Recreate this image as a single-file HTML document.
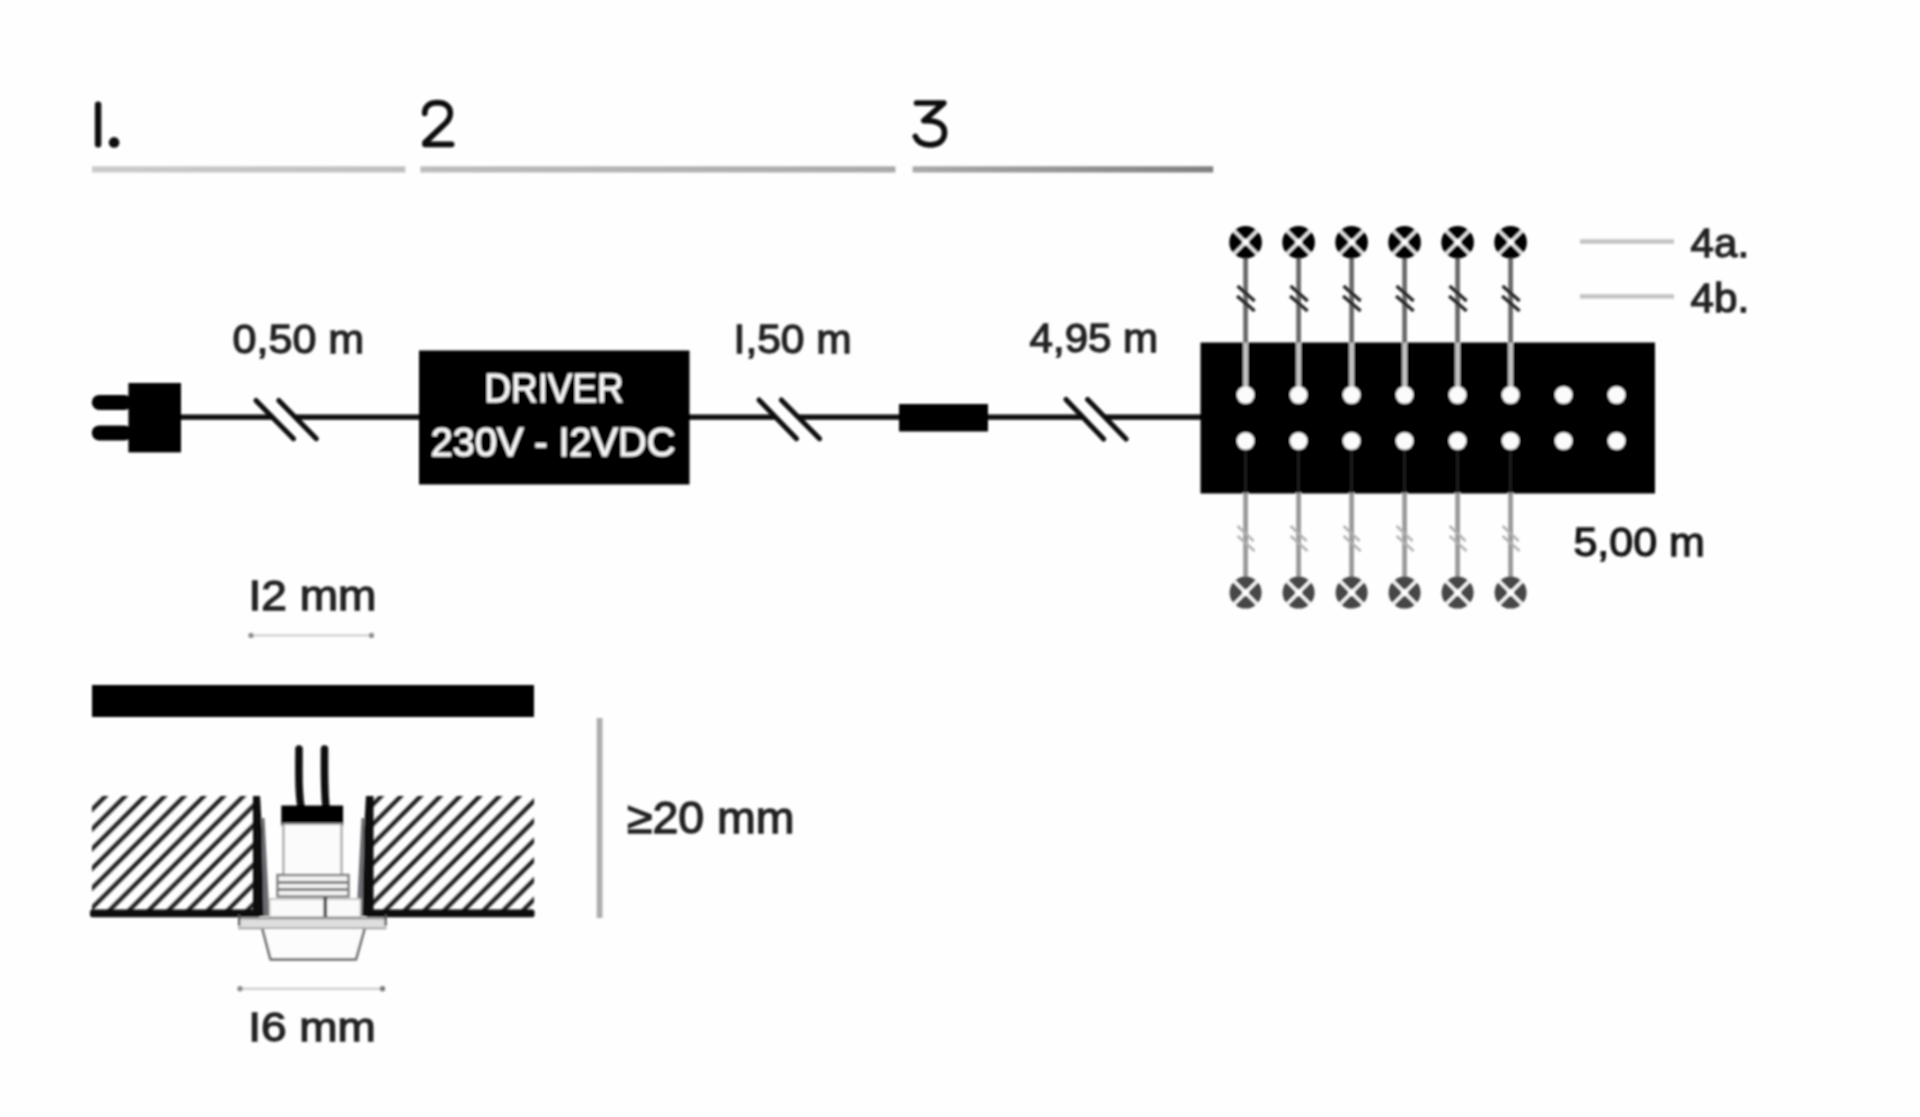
<!DOCTYPE html>
<html><head><meta charset="utf-8"><title>Wiring diagram</title>
<style>
html,body{margin:0;padding:0;background:#fefefe;}
body{width:1920px;height:1117px;overflow:hidden;font-family:"Liberation Sans",sans-serif;}
svg{display:block;position:absolute;left:0;top:0;}
text{font-family:"Liberation Sans",sans-serif;}
.lb{font-size:41px;fill:#222;stroke:#222;stroke-width:1.3px;}
.hd{font-size:60px;fill:#161616;stroke:#161616;stroke-width:.9px;}
.wt{font-size:40.5px;fill:#f6f6f6;stroke:#f6f6f6;stroke-width:1px;}
</style></head><body>
<svg width="1920" height="1117" viewBox="0 0 1920 1117">
<defs>
<filter id="bl" x="-2%" y="-2%" width="104%" height="104%"><feGaussianBlur stdDeviation="1.3"/></filter>
<pattern id="hatch" patternUnits="userSpaceOnUse" width="19.7" height="19.7" x="85.9" y="796">
<path d="M-5,24.7 L24.7,-5 M-5,5 L5,-5 M14.7,24.7 L24.7,14.7" stroke="#1e1e1e" stroke-width="4.2" fill="none"/>
</pattern>
<g id="lampT"><circle r="16.3" fill="#060606"/><path d="M-12,-12L12,12M12,-12L-12,12" stroke="#f2f2f2" stroke-width="2.7"/><circle r="3.3" fill="#fff"/></g>
<g id="lampB"><circle r="16" fill="#474747"/><path d="M-12,-12L12,12M12,-12L-12,12" stroke="#fbfbfb" stroke-width="3"/><circle r="3.4" fill="#fff"/></g>
<linearGradient id="u1" x1="0" x2="1" y1="0" y2="0"><stop offset="0" stop-color="#cbcbcb"/><stop offset="1" stop-color="#c0c0c0"/></linearGradient>
<linearGradient id="u2" x1="0" x2="1" y1="0" y2="0"><stop offset="0" stop-color="#bdbdbd"/><stop offset="1" stop-color="#a9a9a9"/></linearGradient>
<linearGradient id="u3" x1="0" x2="1" y1="0" y2="0"><stop offset="0" stop-color="#a9a9a9"/><stop offset="1" stop-color="#808080"/></linearGradient>
</defs>
<rect width="1920" height="1117" fill="#fefefe"/>
<g filter="url(#bl)">
<!-- headers -->
<g fill="none" stroke="#0b0b0b" stroke-width="5.7" stroke-linecap="round" stroke-linejoin="round">
<path d="M98.1,104.6V144.2" stroke-width="6.4"/>
<path d="M424.7,113.3C424.7,106.3 429.6,102.7 437.4,102.7C445.5,102.7 450.3,106.7 450.3,113.4C450.3,118.6 447.4,121.9 443,125.7L425,142.6V144.3H451.6"/>
<path d="M916.6,103H943.8L923.9,120.7C936,119.6 944.5,124.2 944.5,132.6C944.5,140.5 938.4,144.8 930,144.8C922,144.8 917.4,141.5 915.4,136.5"/>
</g>
<circle cx="114.1" cy="142.4" r="5.3" fill="#0b0b0b"/>
<rect x="92" y="166.3" width="313.3" height="6.2" fill="url(#u1)"/>
<rect x="420.4" y="166.3" width="475" height="6.2" fill="url(#u2)"/>
<rect x="912.6" y="166.3" width="300.6" height="6.2" fill="url(#u3)"/>
<!-- wire -->
<path d="M178,417.1H273.5M295.5,417.1H422M688,417.1H776M798,417.1H900M986,417.1H1083.5M1105.5,417.1H1204" stroke="#080808" stroke-width="5.3" fill="none"/>
<!-- plug -->
<rect x="128.4" y="383" width="52.6" height="69.4" fill="#030303"/>
<rect x="91.8" y="394.9" width="40" height="15" rx="7.5" fill="#030303"/>
<rect x="91.8" y="425.4" width="40" height="15" rx="7.5" fill="#030303"/>
<!-- break marks -->
<path d="M256,400.5L293.5,438.7M278.8,400.5L316.3,438.7" stroke="#080808" stroke-width="5" stroke-linecap="round" fill="none"/>
<path d="M759,400L796.5,438.7M781.3,400L819.6,438.7" stroke="#080808" stroke-width="5" stroke-linecap="round" fill="none"/>
<path d="M1066,399.5L1103.6,439M1087.6,399.5L1126,439" stroke="#080808" stroke-width="5" stroke-linecap="round" fill="none"/>
<!-- driver -->
<rect x="419" y="350.5" width="270.5" height="134" fill="#050505"/>
<text class="wt" x="484.5" y="402" textLength="139"  lengthAdjust="spacingAndGlyphs">DRIVER</text>
<text class="wt" x="430.8" y="455.8" textLength="244.5" lengthAdjust="spacingAndGlyphs">230V - I2VDC</text>
<!-- inline connector -->
<rect x="899" y="404" width="89" height="27.5" fill="#030303"/>
<!-- labels -->
<text class="lb" x="232.6" y="352.7" textLength="131.5" lengthAdjust="spacingAndGlyphs">0,50 m</text>
<text class="lb" x="733.6" y="352.8" textLength="118" lengthAdjust="spacingAndGlyphs">I,50 m</text>
<text class="lb" x="1029.6" y="352.3" textLength="128.5" lengthAdjust="spacingAndGlyphs">4,95 m</text>
<text class="lb" style="fill:#161616;stroke:#161616" x="1573.4" y="556.3" textLength="131.5" lengthAdjust="spacingAndGlyphs">5,00 m</text>
<text class="lb" style="font-size:40px" x="1690.6" y="257.3" textLength="58.5" lengthAdjust="spacingAndGlyphs">4a.</text>
<text class="lb" style="font-size:40px" x="1690.6" y="312" textLength="58.5" lengthAdjust="spacingAndGlyphs">4b.</text>
<rect x="1580" y="239.3" width="94" height="4.4" fill="#c2c2c2"/>
<rect x="1580" y="294.2" width="94" height="4.4" fill="#c2c2c2"/>
<!-- distributor -->
<rect x="1200.5" y="342.5" width="454.5" height="151" fill="#030303"/>
<rect x="1243.1999999999998" y="256" width="4.8" height="87" fill="#6a6a6a"/><rect x="1243.1999999999998" y="342.5" width="4.8" height="50" fill="#c2c2c2"/><path d="M1237.6,286L1254.6,301M1237.1,296L1254.6,311" stroke="#262626" stroke-width="3.5" fill="none"/><use href="#lampT" x="1245.6" y="242.2"/><rect x="1243.1999999999998" y="492" width="4.8" height="88" fill="#9a9a9a"/><rect x="1244.1" y="448" width="3" height="45" fill="#1d1d1d"/><path d="M1237.6,526L1253.6,541M1237.6,536L1254.6,551" stroke="#b0b0b0" stroke-width="2.4" fill="none"/><use href="#lampB" x="1245.6" y="592.6"/>
<rect x="1296.1999999999998" y="256" width="4.8" height="87" fill="#6a6a6a"/><rect x="1296.1999999999998" y="342.5" width="4.8" height="50" fill="#c2c2c2"/><path d="M1290.6,286L1307.6,301M1290.1,296L1307.6,311" stroke="#262626" stroke-width="3.5" fill="none"/><use href="#lampT" x="1298.6" y="242.2"/><rect x="1296.1999999999998" y="492" width="4.8" height="88" fill="#9a9a9a"/><rect x="1297.1" y="448" width="3" height="45" fill="#1d1d1d"/><path d="M1290.6,526L1306.6,541M1290.6,536L1307.6,551" stroke="#b0b0b0" stroke-width="2.4" fill="none"/><use href="#lampB" x="1298.6" y="592.6"/>
<rect x="1349.1999999999998" y="256" width="4.8" height="87" fill="#6a6a6a"/><rect x="1349.1999999999998" y="342.5" width="4.8" height="50" fill="#c2c2c2"/><path d="M1343.6,286L1360.6,301M1343.1,296L1360.6,311" stroke="#262626" stroke-width="3.5" fill="none"/><use href="#lampT" x="1351.6" y="242.2"/><rect x="1349.1999999999998" y="492" width="4.8" height="88" fill="#9a9a9a"/><rect x="1350.1" y="448" width="3" height="45" fill="#1d1d1d"/><path d="M1343.6,526L1359.6,541M1343.6,536L1360.6,551" stroke="#b0b0b0" stroke-width="2.4" fill="none"/><use href="#lampB" x="1351.6" y="592.6"/>
<rect x="1402.1999999999998" y="256" width="4.8" height="87" fill="#6a6a6a"/><rect x="1402.1999999999998" y="342.5" width="4.8" height="50" fill="#c2c2c2"/><path d="M1396.6,286L1413.6,301M1396.1,296L1413.6,311" stroke="#262626" stroke-width="3.5" fill="none"/><use href="#lampT" x="1404.6" y="242.2"/><rect x="1402.1999999999998" y="492" width="4.8" height="88" fill="#9a9a9a"/><rect x="1403.1" y="448" width="3" height="45" fill="#1d1d1d"/><path d="M1396.6,526L1412.6,541M1396.6,536L1413.6,551" stroke="#b0b0b0" stroke-width="2.4" fill="none"/><use href="#lampB" x="1404.6" y="592.6"/>
<rect x="1455.1999999999998" y="256" width="4.8" height="87" fill="#6a6a6a"/><rect x="1455.1999999999998" y="342.5" width="4.8" height="50" fill="#c2c2c2"/><path d="M1449.6,286L1466.6,301M1449.1,296L1466.6,311" stroke="#262626" stroke-width="3.5" fill="none"/><use href="#lampT" x="1457.6" y="242.2"/><rect x="1455.1999999999998" y="492" width="4.8" height="88" fill="#9a9a9a"/><rect x="1456.1" y="448" width="3" height="45" fill="#1d1d1d"/><path d="M1449.6,526L1465.6,541M1449.6,536L1466.6,551" stroke="#b0b0b0" stroke-width="2.4" fill="none"/><use href="#lampB" x="1457.6" y="592.6"/>
<rect x="1508.1999999999998" y="256" width="4.8" height="87" fill="#6a6a6a"/><rect x="1508.1999999999998" y="342.5" width="4.8" height="50" fill="#c2c2c2"/><path d="M1502.6,286L1519.6,301M1502.1,296L1519.6,311" stroke="#262626" stroke-width="3.5" fill="none"/><use href="#lampT" x="1510.6" y="242.2"/><rect x="1508.1999999999998" y="492" width="4.8" height="88" fill="#9a9a9a"/><rect x="1509.1" y="448" width="3" height="45" fill="#1d1d1d"/><path d="M1502.6,526L1518.6,541M1502.6,536L1519.6,551" stroke="#b0b0b0" stroke-width="2.4" fill="none"/><use href="#lampB" x="1510.6" y="592.6"/>
<circle cx="1245.6" cy="395" r="8.7" fill="#fbfbfb"/><circle cx="1245.6" cy="441" r="8.7" fill="#fbfbfb"/>
<circle cx="1298.6" cy="395" r="8.7" fill="#fbfbfb"/><circle cx="1298.6" cy="441" r="8.7" fill="#fbfbfb"/>
<circle cx="1351.6" cy="395" r="8.7" fill="#fbfbfb"/><circle cx="1351.6" cy="441" r="8.7" fill="#fbfbfb"/>
<circle cx="1404.6" cy="395" r="8.7" fill="#fbfbfb"/><circle cx="1404.6" cy="441" r="8.7" fill="#fbfbfb"/>
<circle cx="1457.6" cy="395" r="8.7" fill="#fbfbfb"/><circle cx="1457.6" cy="441" r="8.7" fill="#fbfbfb"/>
<circle cx="1510.6" cy="395" r="8.7" fill="#fbfbfb"/><circle cx="1510.6" cy="441" r="8.7" fill="#fbfbfb"/>
<circle cx="1563.6" cy="395" r="8.7" fill="#fbfbfb"/><circle cx="1563.6" cy="441" r="8.7" fill="#fbfbfb"/>
<circle cx="1616.6" cy="395" r="8.7" fill="#fbfbfb"/><circle cx="1616.6" cy="441" r="8.7" fill="#fbfbfb"/>
<!-- section drawing -->
<text class="lb" style="font-size:42px" x="248.5" y="610" textLength="128" lengthAdjust="spacingAndGlyphs">I2 mm</text>
<text class="lb" style="font-size:41.5px" x="248.2" y="1040.6" textLength="127.5" lengthAdjust="spacingAndGlyphs">I6 mm</text>
<text class="lb" style="font-size:44.5px" x="627" y="833" textLength="167.5" lengthAdjust="spacingAndGlyphs">≥20 mm</text>
<rect x="251" y="634.3" width="121" height="2.2" fill="#cfcfcf"/>
<circle cx="251" cy="635.4" r="2.6" fill="#8c8c8c"/><circle cx="371.5" cy="635.4" r="2.6" fill="#8c8c8c"/>
<rect x="240" y="987.7" width="142" height="2.2" fill="#cdcdcd"/>
<circle cx="240" cy="988.8" r="2.7" fill="#8a8a8a"/><circle cx="382.5" cy="988.8" r="2.7" fill="#7a7a7a"/>
<rect x="596.7" y="718" width="5.8" height="200" fill="#adadad"/>
<rect x="92" y="685" width="442" height="32" fill="#050505"/>
<!-- hatched blocks -->
<rect x="92" y="796" width="162" height="118" fill="url(#hatch)"/>
<rect x="372" y="796" width="162" height="118" fill="url(#hatch)"/>
<rect x="90" y="909.6" width="170" height="7.6" rx="2.5" fill="#080808"/>
<rect x="366" y="909.6" width="168.5" height="7.6" rx="2.5" fill="#080808"/>
<!-- hole walls / spring clips -->
<path d="M253,796 L260,796 L262,830 L264,916 L253,916Z" fill="#0a0a0a"/>
<path d="M261.5,818 L264.5,818 L269.5,916 L263.5,916Z" fill="#6a6a70"/>
<path d="M366,796 L373.5,796 L373.5,916 L362,916 L364,830Z" fill="#0a0a0a"/>
<path d="M361.5,818 L364.5,818 L362.5,916 L356.5,916Z" fill="#6a6a70"/>
<!-- wires -->
<path d="M299,749 C299,770 298,790 301,807" stroke="#0a0a0a" stroke-width="7.5" fill="none" stroke-linecap="round"/>
<path d="M324.5,749 C324.5,770 324,790 326,807" stroke="#0a0a0a" stroke-width="7.5" fill="none" stroke-linecap="round"/>
<!-- lamp body -->
<rect x="281.3" y="805.5" width="61.8" height="20" fill="#030303"/>
<rect x="283.5" y="824" width="58" height="51" fill="#fbfbfb" stroke="#9a9a9a" stroke-width="2"/>
<rect x="277.5" y="875" width="71" height="21.5" fill="#f2f2f2" stroke="#7e7e7e" stroke-width="2.4"/>
<path d="M278,882.5H348M278,889.5H348" stroke="#808080" stroke-width="2.8" fill="none"/>
<rect x="269.5" y="899" width="91" height="18" fill="#fafafa" stroke="#b8b8b8" stroke-width="1.6"/>
<rect x="323.5" y="897" width="3.6" height="20" fill="#4a4a4a"/>
<rect x="238" y="917.5" width="148.5" height="11" fill="#dedede"/><path d="M238,918.3H386.5" stroke="#8a8a8a" stroke-width="2"/><path d="M238,928.3H386.5" stroke="#9c9c9c" stroke-width="1.8"/><path d="M239.2,914.5V926M385.6,914.5V926" stroke="#555" stroke-width="2.2"/>
<path d="M262.5,929 L270.5,959.3 L356,959.3 L364.5,929" fill="#fcfcfc" stroke="#707070" stroke-width="2.7" stroke-linejoin="round"/>
</g>
</svg>
</body></html>
